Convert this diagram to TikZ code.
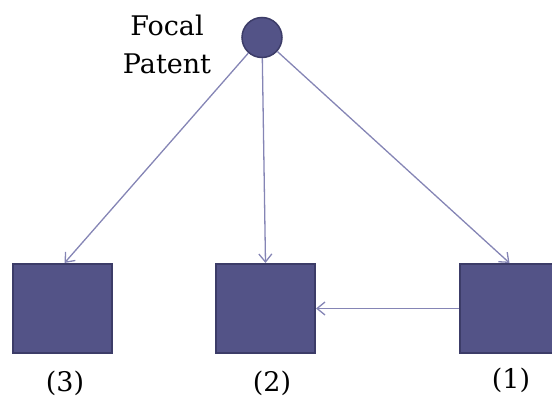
\documentclass[tikz,border=0pt]{standalone}
\usepackage{fontspec}
\setmainfont{DejaVu Serif}
\usetikzlibrary{arrows.meta}
\definecolor{boxfill}{HTML}{535387}
\definecolor{boxline}{HTML}{3C3C68}
\definecolor{linkc}{HTML}{8585B5}
\begin{document}
\begin{tikzpicture}[x=1pt,y=-1pt,
  patentbox/.style={rectangle, draw=boxline, fill=boxfill, line width=2pt, minimum width=99pt, minimum height=89pt, inner sep=0pt},
  focal/.style={circle, draw=boxline, fill=boxfill, line width=1.5pt, minimum size=40pt, inner sep=0pt},
  cite/.style={draw=linkc, line width=1.3pt, -{Straight Barb[length=8pt,width=13pt,line width=1.3pt]}},
  lab/.style={font=\fontsize{27}{30}\selectfont, inner sep=0pt}]
\clip (0,0) rectangle (552,401);
\node[focal] (fp) at (262,37.5) {};
\node[lab, align=center, font=\fontsize{27}{38}\selectfont] (fplab) at (167,44) {Focal\\Patent};
\node[patentbox] (b3) at (62.5,308.5) {};
\node[patentbox] (b2) at (265.5,308.5) {};
\node[patentbox] (b1) at (509.5,308.5) {};
\node[lab] (l3) at (65,383) {(3)};
\node[lab] (l2) at (272,383) {(2)};
\node[lab] (l1) at (511,380) {(1)};
\draw[cite] (fp) -- ([xshift=2pt]b3.north);
\draw[cite] (fp) -- (b2.north);
\draw[cite] (fp) -- (b1.north);
\draw[cite] (b1.west) -- (b2.east);
\end{tikzpicture}
\end{document}
